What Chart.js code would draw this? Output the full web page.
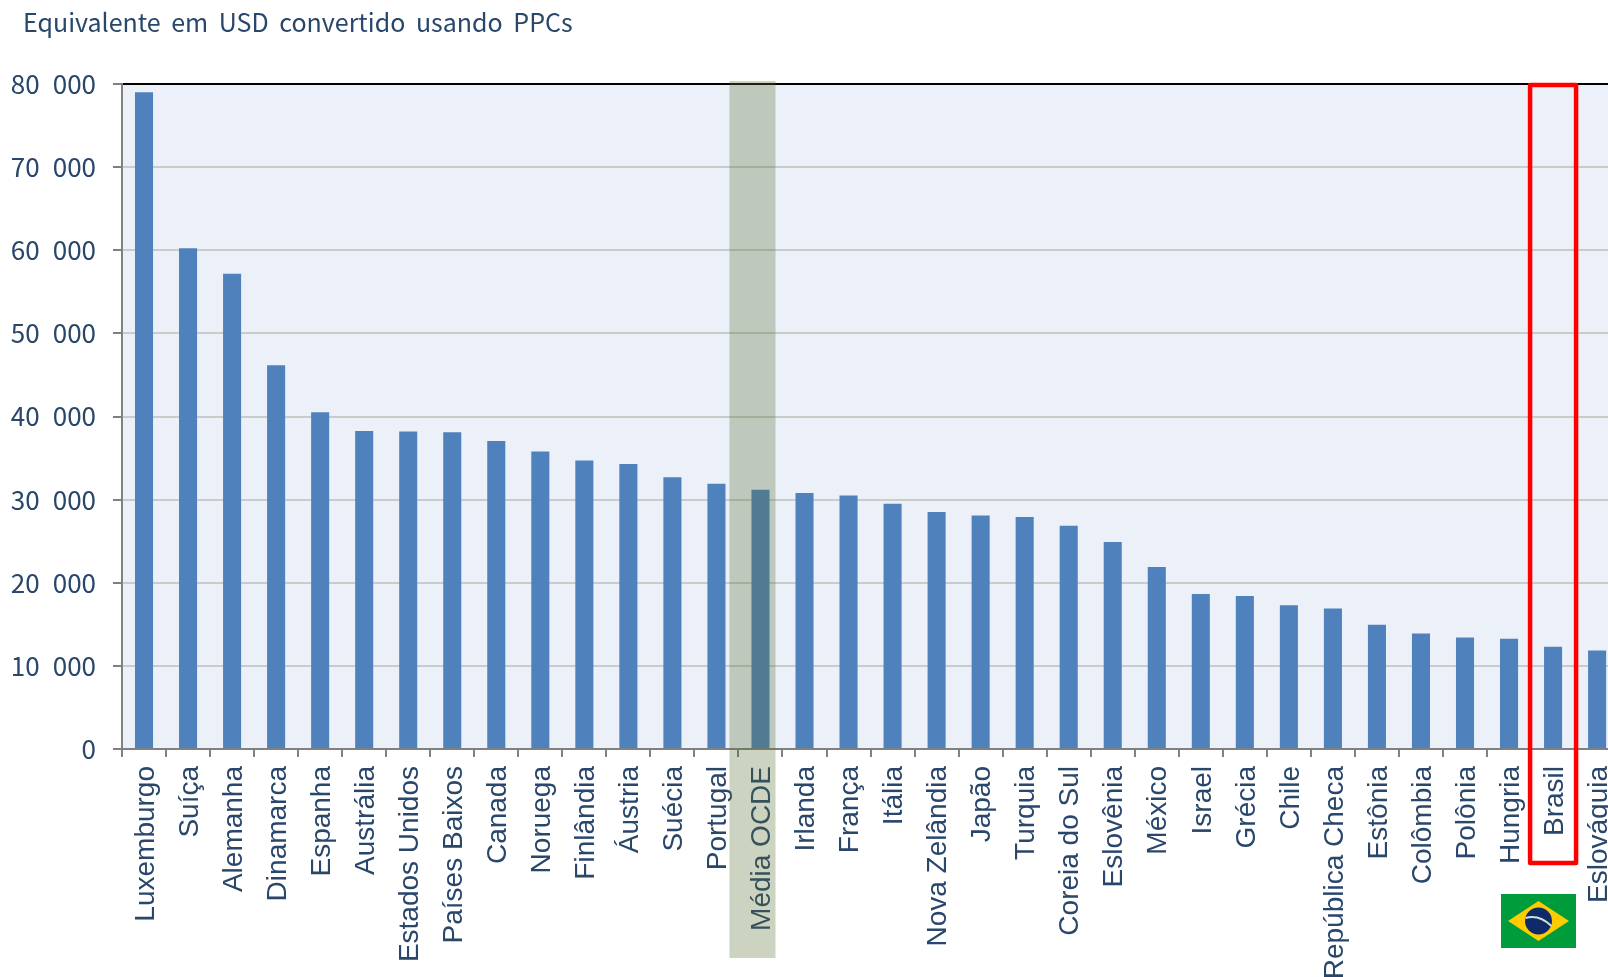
<!DOCTYPE html>
<html lang="pt">
<head>
<meta charset="utf-8">
<title>Equivalente em USD convertido usando PPCs</title>
<script src="https://cdn.jsdelivr.net/npm/chart.js@4"></script>
<style>
    html, body { margin: 0; background: #fff; width: 1608px; height: 977px; overflow: hidden; }
    #wrap { position: relative; width: 1608px; height: 977px; overflow: hidden; }
    #subtitle {
        position: absolute; left: 23px; top: 3px; white-space: nowrap;
        font: 25px "Noto Sans CJK KR", "Noto Sans"; word-spacing: 5px; color: #29466b;
    }
    #flag { position: absolute; left: 1501px; top: 894px; }
    canvas { position: absolute; left: 0; top: 0; }
</style>
</head>
<body>
<div id="wrap">
    <canvas id="chart" width="1640" height="977"></canvas>
    <div id="subtitle">Equivalente em USD convertido usando PPCs</div>
    <svg id="flag" width="75" height="54" viewBox="0 0 75 54">
        <rect width="75" height="54" fill="#009b3a"/>
        <polygon points="7,27 37.5,7 68,27 37.5,47" fill="#fecc00"/>
        <circle cx="37.5" cy="27" r="13.5" fill="#0f2a68"/>
        <path d="M24.5 24 Q38 20 50.5 32" stroke="#cfe3d8" stroke-width="2" fill="none"/>
    </svg>
</div>
<script>
const categories = ['Luxemburgo', 'Suíça', 'Alemanha', 'Dinamarca', 'Espanha', 'Austrália', 'Estados Unidos',
    'Países Baixos', 'Canada', 'Noruega', 'Finlândia', 'Áustria', 'Suécia', 'Portugal', 'Média OCDE', 'Irlanda',
    'França', 'Itália', 'Nova Zelândia', 'Japão', 'Turquia', 'Coreia do Sul', 'Eslovênia', 'México', 'Israel',
    'Grécia', 'Chile', 'República Checa', 'Estônia', 'Colômbia', 'Polônia', 'Hungria', 'Brasil', 'Eslováquia'];
const values = [79000, 60250, 57160, 46170, 40500, 38270, 38200, 38100, 37040, 35800, 34700, 34300, 32700, 31900,
    31200, 30800, 30500, 29500, 28500, 28100, 27900, 26850, 24900, 21900, 18650, 18400, 17300, 16900, 14950,
    13900, 13400, 13250, 12300, 11850];
const yMax = 80000;
const yStep = 10000;

const textColor = '#29466b';
const axisGray = '#808080';

// Plot background goes under everything, the two highlights on top
const highlights = {
    id: 'highlights',
    beforeDraw(chart) {
        const { ctx, chartArea: a } = chart;
        ctx.save();
        ctx.fillStyle = '#ecf0f8';
        ctx.fillRect(a.left, a.top, a.right - a.left, a.bottom - a.top);
        ctx.restore();
    },
    afterDraw(chart) {
        const { ctx, scales: { x } } = chart;
        const mean = x.getPixelForValue(categories.indexOf('Média OCDE'));
        const brazil = x.getPixelForValue(categories.indexOf('Brasil'));
        ctx.save();
        ctx.fillStyle = 'rgba(85, 110, 50, 0.3)';
        ctx.fillRect(mean - 31, 81, 46, 877);
        ctx.strokeStyle = '#ff0000';
        ctx.lineWidth = 4.5;
        ctx.lineJoin = 'round';
        ctx.strokeRect(brazil - 23, 85, 46, 778);
        ctx.restore();
    }
};

new Chart(document.getElementById('chart'), {
    type: 'bar',
    data: {
        labels: categories,
        datasets: [{
            data: values,
            backgroundColor: '#4f81bd',
            barPercentage: 0.41,
            categoryPercentage: 1
        }]
    },
    options: {
        responsive: false,
        animation: false,
        layout: { padding: { top: 84, left: 0, right: 20, bottom: 0 } },
        plugins: { legend: { display: false }, tooltip: { enabled: false } },
        scales: {
            x: {
                afterFit(axis) { axis.height = 977 - 749; },
                grid: {
                    offset: true,
                    drawOnChartArea: false,
                    color: axisGray,
                    lineWidth: 2,
                    tickLength: 8
                },
                border: { color: axisGray, width: 2 },
                ticks: {
                    autoSkip: false,
                    minRotation: 90,
                    maxRotation: 90,
                    padding: 9,
                    labelOffset: 2,
                    color: textColor,
                    font: { family: '"Liberation Sans"', size: 28 }
                }
            },
            y: {
                min: 0,
                max: yMax,
                afterFit(axis) { axis.width = 122; },
                grid: {
                    color: ctx => ctx.tick.value === yMax ? '#000' : '#c9ccc9',
                    tickColor: axisGray,
                    lineWidth: 2,
                    tickLength: 9
                },
                border: { color: axisGray, width: 2 },
                ticks: {
                    stepSize: yStep,
                    padding: 17,
                    color: textColor,
                    font: { family: '"Noto Sans CJK KR"', size: 26 },
                    callback: v => v === 0 ? '0' : Math.floor(v / 1000) + '\u2002' + '000'
                }
            }
        }
    },
    plugins: [highlights]
});
</script>
</body>
</html>
